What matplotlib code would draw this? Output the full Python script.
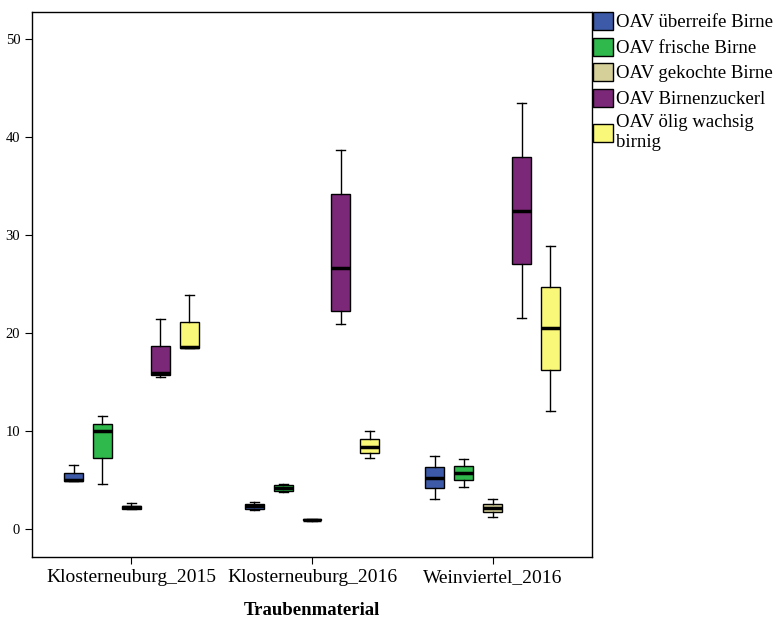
import matplotlib.pyplot as plt
from matplotlib.patches import Patch

plt.rcParams['font.family'] = ['Liberation Serif', 'DejaVu Serif']

groups = ["Klosterneuburg_2015", "Klosterneuburg_2016", "Weinviertel_2016"]
series = ["OAV überreife Birne", "OAV frische Birne", "OAV gekochte Birne",
          "OAV Birnenzuckerl", "OAV ölig wachsig\nbirnig"]
colors = ["#3d5aa8", "#2fb84b", "#d5d09a", "#7b2878", "#faf878"]

# per series: values for the three groups (low whisker, Q1, median, Q3, high whisker)
ueberreife = [(4.86, 4.86, 4.95, 5.68, 6.56), (1.94, 2.04, 2.3, 2.55, 2.76), (3.06, 4.15, 5.24, 6.33, 7.45)]
frische = [(4.56, 7.28, 10.0, 10.75, 11.5), (3.8, 3.84, 4.18, 4.46, 4.6), (4.32, 5.03, 5.75, 6.46, 7.18)]
gekochte = [(2.04, 2.04, 2.2, 2.38, 2.62), (0.85, 0.87, 0.92, 0.98, 1.0), (1.26, 1.7, 2.18, 2.58, 3.06)]
zuckerl = [(15.5, 15.75, 15.95, 18.7, 21.46), (20.92, 22.28, 26.6, 34.2, 38.67), (21.53, 27.04, 32.5, 38.0, 43.5)]
oelig = [(18.5, 18.5, 18.55, 21.16, 23.88), (7.2, 7.72, 8.37, 9.18, 10.0), (12.04, 16.22, 20.48, 24.66, 28.88)]
all_series = [ueberreife, frische, gekochte, zuckerl, oelig]

fig = plt.figure(figsize=(7.77, 6.21), dpi=100)
ax = fig.add_axes([32 / 777, 1 - 557 / 621, 560 / 777, 545 / 621])

offset = 0.16
for i, (data, col) in enumerate(zip(all_series, colors)):
    stats = []
    for lo, q1, med, q3, hi in data:
        stats.append(dict(whislo=lo, q1=q1, med=med, q3=q3, whishi=hi, fliers=[]))
    pos = [g + (i - 2) * offset for g in range(len(groups))]
    ax.bxp(stats, positions=pos, widths=0.105, patch_artist=True, showfliers=False,
           boxprops=dict(facecolor=col, edgecolor='black', linewidth=1),
           medianprops=dict(color='black', linewidth=2.5),
           whiskerprops=dict(color='black', linewidth=1),
           capprops=dict(color='black', linewidth=1),
           capwidths=0.05, manage_ticks=False)

ax.set_xlim(-0.55, 2.55)
ax.set_ylim(-2.86, 52.76)
ax.set_xticks(range(len(groups)))
ax.set_xticklabels(groups, fontsize=14)
ax.set_yticks([0, 10, 20, 30, 40, 50])
ax.tick_params(axis='y', labelsize=10.5, length=5, direction='out')
ax.tick_params(axis='x', length=5, direction='out')
ax.set_xlabel("Traubenmaterial", fontsize=13.5, fontweight='bold', labelpad=12)
for s in ax.spines.values():
    s.set_linewidth(1)

handles = [Patch(facecolor=c, edgecolor='black', label=l) for c, l in zip(colors, series)]
fig.legend(handles=handles, loc='upper left', bbox_to_anchor=(593 / 777, 1 - 12 / 621),
           frameon=False, fontsize=13.5, handlelength=1.05, handleheight=1.1,
           handletextpad=0.2, labelspacing=0.33, borderaxespad=0, borderpad=0)

fig.savefig("out.png", dpi=100)
